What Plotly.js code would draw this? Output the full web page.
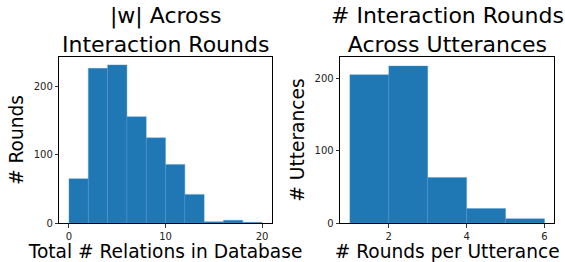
<!DOCTYPE html>
<html>
<head>
<meta charset="utf-8">
<script src="https://cdn.plot.ly/plotly-3.0.1.min.js"></script>
<style>html,body{margin:0;padding:0;background:#fff;}#chart{width:565px;height:262px;}</style>
</head>
<body>
<div id="chart"></div>
<script>
// Left histogram: |w| (relations in database), bins of width 2
const relBinCenters = [1, 3, 5, 7, 9, 11, 13, 15, 17, 19];
const relCounts = [65, 227, 232, 156, 125, 86, 42, 2, 4, 1];
// Right histogram: rounds per utterance, bins of width 1
const roundBinCenters = [1.5, 2.5, 3.5, 4.5, 5.5];
const roundCounts = [205, 217, 63, 20, 6];

const leftTickVals = [0, 10, 20];
const leftYTicks = [0, 100, 200];
const rightTickVals = [2, 4, 6];
const rightYTicks = [0, 100, 200];

const barColor = '#1f77b4';
const font = 'DejaVu Sans, sans-serif';
const axTitleSize = 18.6;

const traces = [
  {type: 'bar', x: relBinCenters, y: relCounts, width: 2, xaxis: 'x', yaxis: 'y',
   marker: {color: barColor, line: {width: 0.4, color: '#4f97cc'}}, hoverinfo: 'skip'},
  {type: 'bar', x: roundBinCenters, y: roundCounts, width: 1, xaxis: 'x2', yaxis: 'y2',
   marker: {color: barColor, line: {width: 0.4, color: '#4f97cc'}}, hoverinfo: 'skip'}
];

const axBase = {
  showline: true, mirror: true, linecolor: '#000', linewidth: 1,
  ticks: 'outside', ticklen: 3.5, tickwidth: 0.8, tickcolor: '#000',
  showgrid: false, zeroline: false, tickfont: {family: font, size: 10, color: '#222'},
  fixedrange: true
};

const layout = {
  width: 565, height: 262,
  margin: {l: 0, r: 0, t: 57, b: 39},
  paper_bgcolor: '#fff', plot_bgcolor: '#fff',
  showlegend: false, bargap: 0,
  font: {family: font, color: '#000'},
  xaxis: Object.assign({}, axBase, {domain: [0.105, 0.481], range: [-1, 21], tickvals: leftTickVals,
    title: {text: 'Total # Relations in Database', font: {family: font, size: axTitleSize, color: '#000'}, standoff: 3}}),
  yaxis: Object.assign({}, axBase, {domain: [0, 1], range: [0, 243.6], tickvals: leftYTicks,
    title: {text: '# Rounds', font: {family: font, size: axTitleSize, color: '#000'}, standoff: 5}}),
  xaxis2: Object.assign({}, axBase, {domain: [0.602, 0.981], range: [0.75, 6.25], tickvals: rightTickVals, anchor: 'y2',
    title: {text: '# Rounds per Utterance', font: {family: font, size: axTitleSize, color: '#000'}, standoff: 3}}),
  yaxis2: Object.assign({}, axBase, {domain: [0, 1], range: [0, 229.5], tickvals: rightYTicks, anchor: 'x2',
    title: {text: '# Utterances', font: {family: font, size: axTitleSize, color: '#000'}, standoff: 5}}),
  annotations: [
    {text: '|w| Across<br>Interaction Rounds', xref: 'paper', yref: 'paper', x: 0.293, xanchor: 'center',
     y: 1, yanchor: 'bottom', yshift: -2, showarrow: false, font: {family: font, size: 22, color: '#000'}},
    {text: '# Interaction Rounds<br>Across Utterances', xref: 'paper', yref: 'paper', x: 0.7915, xanchor: 'center',
     y: 1, yanchor: 'bottom', yshift: -2, showarrow: false, font: {family: font, size: 22, color: '#000'}}
  ]
};

Plotly.newPlot('chart', traces, layout, {displayModeBar: false, staticPlot: true});
</script>
</body>
</html>
